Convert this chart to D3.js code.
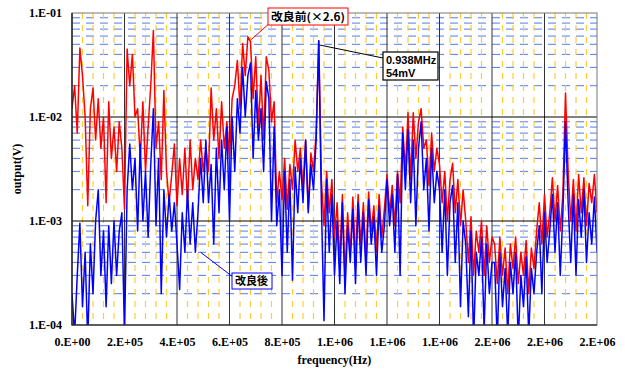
<!DOCTYPE html>
<html>
<head>
<meta charset="utf-8">
<script src="https://cdn.jsdelivr.net/npm/d3@7"></script>
<style>
  body { margin: 0; background: #fff; }
</style>
</head>
<body>
<svg id="chart" width="625" height="372" font-family="Liberation Serif, DejaVu Serif, serif"></svg>
<script>
// frequency step of the spectrum samples (Hz)
const stepHz = 1e4;

// 改良前 (x2.6), mV
const beforeMv = [
  12, 20, 7, 46, 25, 10, 1.4, 12, 19, 6, 15,
  5, 10, 1.5, 14, 4, 8, 3, 9, 5, 1.3,
  45, 20, 40, 10, 12, 4, 14, 3, 8, 20, 68,
  5, 9, 2.5, 18, 3, 1.5, 2.8, 5.5, 1.4, 4,
  1.8, 5, 1.5, 6, 2, 4, 2.5, 6, 3, 5,
  3, 19, 6, 12, 4, 14, 5, 9, 4, 15,
  20, 35, 12, 51, 25, 59, 53, 15, 38, 8, 25, 6,
  38, 28, 9, 14, 1.5,
  3, 1.6, 4, 1.3, 3.5, 2, 6, 3,
  5, 2, 6, 1.3, 4.5, 3, 7, 54,
  2.5, 0.9, 3, 1.2, 2.5, 0.7,
  1.5, 0.4, 1.8, 0.3, 1.2, 0.5, 1.7, 0.4,
  1.8, 0.6, 1.5, 0.4, 1.9, 0.8, 1.4, 0.5, 1.8, 0.7, 1.3,
  2.8, 1.2, 2.2, 0.9, 3, 1.5,
  8, 3, 11, 2.5, 11, 4, 9,
  12, 5, 6, 2.2, 7, 3, 5,
  3.5, 1.5, 3, 1, 2.5, 3.6, 1.2, 2.5, 0.9, 2,
  1, 0.4, 1.1, 0.3, 0.8, 0.5, 1, 0.3, 0.9, 0.4, 0.7,
  0.6, 0.25, 0.7, 0.3, 0.55, 0.2, 0.6, 0.35, 0.7, 0.25, 0.5, 0.3, 0.65, 0.2, 0.55, 0.35, 0.8,
  1.5, 0.6, 1.8, 0.7, 1.2,
  2.6, 1, 2.2, 0.8, 1.8, 17,
  3, 1, 2.5, 0.8, 2.8, 1.2, 2.6, 0.9, 2.3, 1.5, 2.8, 1.2
];

// 改良後, mV
const afterMv = [
  0.2, 0.08, 0.3, 0.95, 0.15, 0.5, 0.07, 0.6, 0.2, 1, 2,
  0.3, 0.8, 0.15, 0.9, 0.25, 1, 0.3, 0.8, 1.2, 0.08,
  2, 5.5, 2, 4, 0.8, 5.5, 1, 3, 0.7, 3.5, 12,
  0.9, 4, 0.2, 2, 0.7, 1.8, 0.8, 1.5, 0.6, 0.22,
  1.2, 0.5, 2, 0.6, 1.5, 0.5, 1.2, 4, 1.5, 6,
  1.5, 3.5, 0.6, 5, 1.2, 6, 2, 8, 1, 10,
  3, 15, 7, 30, 10, 25, 33, 4, 18, 6, 12, 3,
  22, 15, 1, 8, 0.9,
  2, 0.3, 3, 0.5, 2.5, 0.27, 3.3, 1.2,
  4, 1.5, 6, 1.2, 3.5, 2, 6, 54,
  1.5, 0.11, 2.5, 0.5, 1.8, 0.3,
  1, 0.25, 1.5, 0.2, 0.9, 0.4, 1.3, 0.25,
  1.5, 0.4, 1.2, 0.3, 1.6, 0.6, 1.1, 0.3, 1.4, 0.5, 0.9,
  2.5, 0.9, 1.8, 0.5, 2.8, 0.3,
  7, 2, 7.5, 1.5, 6, 0.9, 5,
  9, 2, 4, 0.8, 5, 1.5, 3,
  2, 0.5, 2, 0.3, 1.5, 2.2, 0.4, 1.5, 0.15, 1,
  0.6, 0.12, 0.8, 0.07, 0.5, 0.3, 0.7, 0.09, 0.6, 0.2, 0.4,
  0.4, 0.07, 0.5, 0.15, 0.35, 0.08, 0.4, 0.2, 0.5, 0.07, 0.3, 0.15, 0.45, 0.08, 0.35, 0.2, 0.5,
  0.9, 0.2, 1.2, 0.4, 0.8,
  1.8, 0.5, 1.5, 0.3, 1.2, 9,
  1.5, 0.4, 1.8, 0.3, 1.6, 0.7, 2, 0.4, 1.2, 0.6, 1.7, 0.5
];

const xTicks = d3.range(0, 2e6 + 1, 2e5);
const xMinor = d3.range(0, 2e6 + 1, 4e4);
const yTicks = [1e-4, 1e-3, 1e-2, 1e-1];

const plot = { left: 72, right: 597, top: 13, bottom: 325 };

const svg = d3.select('#chart');

const x = d3.scaleLinear().domain([0, 2e6]).range([plot.left, plot.right]);
const y = d3.scaleLog().domain([1e-4, 1e-1]).range([plot.bottom, plot.top]);

// Excel style "0.E+00"
function sci(d) {
    if (d === 0) return '0.E+00';
    let e = Math.floor(Math.log10(d) + 1e-9);
    let m = Math.round(d / Math.pow(10, e));
    if (m === 10) { m = 1; e += 1; }
    const sign = e < 0 ? '-' : '+';
    return m + '.E' + sign + String(Math.abs(e)).padStart(2, '0');
}

svg.append('defs').append('clipPath').attr('id', 'clip')
    .append('rect')
    .attr('x', plot.left).attr('y', plot.top)
    .attr('width', plot.right - plot.left).attr('height', plot.bottom - plot.top);

const grid = svg.append('g');

// minor horizontal (blue dashed)
const yMinor = [];
yTicks.slice(0, -1).forEach(t => { for (let k = 2; k <= 9; k++) yMinor.push(t * k); });
grid.selectAll('line.ymin')
    .data(yMinor)
    .enter().append('line')
    .attr('x1', plot.left).attr('x2', plot.right)
    .attr('y1', d => y(d)).attr('y2', d => y(d))
    .attr('stroke', '#4f7df0')
    .attr('stroke-width', 1)
    .attr('stroke-dasharray', '8,6');

// minor vertical (yellow dashed)
grid.selectAll('line.xmin')
    .data(xMinor.filter(d => d % 2e5 !== 0))
    .enter().append('line')
    .attr('x1', d => x(d)).attr('x2', d => x(d))
    .attr('y1', plot.top).attr('y2', plot.bottom)
    .attr('stroke', '#ffcc33')
    .attr('stroke-width', 1.2)
    .attr('stroke-dasharray', '6,6');

// major grid
grid.selectAll('line.xmaj')
    .data(xTicks.slice(1, -1))
    .enter().append('line')
    .attr('x1', d => x(d)).attr('x2', d => x(d))
    .attr('y1', plot.top).attr('y2', plot.bottom)
    .attr('stroke', '#333')
    .attr('stroke-width', 1);

grid.selectAll('line.ymaj')
    .data(yTicks.slice(1, -1))
    .enter().append('line')
    .attr('x1', plot.left).attr('x2', plot.right)
    .attr('y1', d => y(d)).attr('y2', d => y(d))
    .attr('stroke', '#000')
    .attr('stroke-width', 1);

// series
const line = d3.line()
    .x((d, i) => x(i * stepHz))
    .y(d => y(d / 1000));

const series = svg.append('g').attr('clip-path', 'url(#clip)');

series.append('path')
    .datum(beforeMv)
    .attr('fill', 'none')
    .attr('stroke', '#ff0000')
    .attr('stroke-width', 1.5)
    .attr('stroke-linejoin', 'round')
    .attr('d', line);

series.append('path')
    .datum(afterMv)
    .attr('fill', 'none')
    .attr('stroke', '#0000ff')
    .attr('stroke-width', 1.5)
    .attr('stroke-linejoin', 'round')
    .attr('d', line);

// frame
svg.append('rect')
    .attr('x', plot.left).attr('y', plot.top)
    .attr('width', plot.right - plot.left).attr('height', plot.bottom - plot.top)
    .attr('fill', 'none')
    .attr('stroke', '#777')
    .attr('stroke-width', 1);
svg.append('path')
    .attr('d', `M${plot.left},${plot.top}V${plot.bottom}H${plot.right}`)
    .attr('fill', 'none')
    .attr('stroke', '#000')
    .attr('stroke-width', 1.2);

// axes
const xAxis = svg.append('g')
    .attr('transform', `translate(0,${plot.bottom})`)
    .call(d3.axisBottom(x).tickValues(xTicks).tickFormat(sci).tickSize(0).tickPadding(12));
const yAxis = svg.append('g')
    .attr('transform', `translate(${plot.left},0)`)
    .call(d3.axisLeft(y).tickValues(yTicks).tickFormat(sci).tickSize(0).tickPadding(10));

[xAxis, yAxis].forEach(a => {
    a.select('.domain').remove();
    a.selectAll('text')
        .attr('font-family', 'Liberation Serif, serif')
        .attr('font-size', 12)
        .attr('font-weight', 'bold')
        .attr('fill', '#000');
});

svg.append('text')
    .attr('x', (plot.left + plot.right) / 2)
    .attr('y', 364)
    .attr('text-anchor', 'middle')
    .attr('font-size', 12)
    .attr('font-weight', 'bold')
    .text('frequency(Hz)');

svg.append('text')
    .attr('transform', `translate(21,${(plot.top + plot.bottom) / 2}) rotate(-90)`)
    .attr('text-anchor', 'middle')
    .attr('font-size', 12)
    .attr('font-weight', 'bold')
    .text('output(V)');

// annotations
const ann = svg.append('g')
    .attr('font-family', 'Noto Sans CJK JP, Liberation Sans, sans-serif')
    .attr('font-weight', 'bold')
    .attr('font-size', 11);

// 改良前 pointer
ann.append('line')
    .attr('x1', 271).attr('y1', 22)
    .attr('x2', x(67 * stepHz) + 3).attr('y2', y(beforeMv[67] / 1000) + 3)
    .attr('stroke', '#ff0000').attr('stroke-width', 1);
ann.append('rect')
    .attr('x', 268).attr('y', 8).attr('width', 80).attr('height', 17)
    .attr('fill', '#fff').attr('stroke', '#ff0000').attr('stroke-width', 1);
ann.append('text')
    .attr('x', 271).attr('y', 21)
    .attr('textLength', 74)
    .attr('lengthAdjust', 'spacingAndGlyphs')
    .text('改良前(×2.6)');

// 0.938MHz pointer
ann.append('line')
    .attr('x1', x(94 * stepHz)).attr('y1', y(afterMv[94] / 1000) + 4)
    .attr('x2', 383).attr('y2', 58)
    .attr('stroke', '#000').attr('stroke-width', 1);
ann.append('rect')
    .attr('x', 383).attr('y', 52).attr('width', 55).attr('height', 28)
    .attr('fill', '#fff').attr('stroke', '#000').attr('stroke-width', 1.2);
ann.append('text')
    .attr('x', 386).attr('y', 64)
    .attr('font-family', 'Liberation Sans, Arial, sans-serif')
    .text('0.938MHz');
ann.append('text')
    .attr('x', 386).attr('y', 77)
    .attr('font-family', 'Liberation Sans, Arial, sans-serif')
    .text('54mV');

// 改良後 pointer
ann.append('line')
    .attr('x1', x(4.9e5)).attr('y1', y(0.0005))
    .attr('x2', 233).attr('y2', 277)
    .attr('stroke', '#0000ff').attr('stroke-width', 1);
ann.append('rect')
    .attr('x', 232).attr('y', 273).attr('width', 40).attr('height', 16)
    .attr('fill', '#fff').attr('stroke', '#0000ff').attr('stroke-width', 1);
ann.append('text')
    .attr('x', 235).attr('y', 285)
    .text('改良後');
</script>
</body>
</html>
